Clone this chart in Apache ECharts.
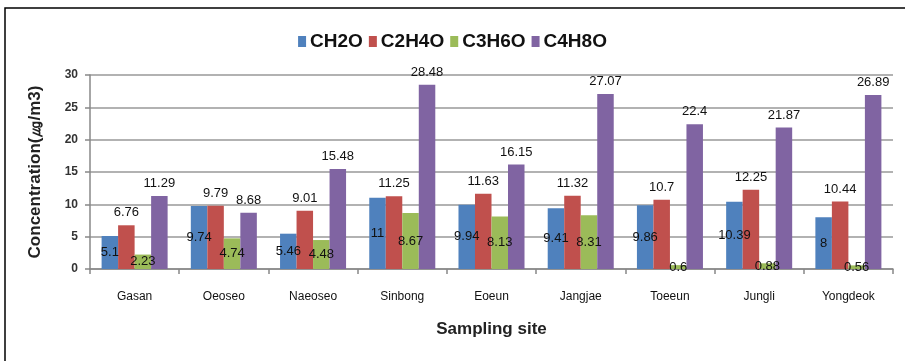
<!DOCTYPE html>
<html>
<head>
<meta charset="utf-8">
<style>
  html, body { margin: 0; padding: 0; background: #fff; }
  #chart { width: 905px; height: 361px; }
</style>
<script src="https://cdn.jsdelivr.net/npm/echarts@6/dist/echarts.min.js"></script>
</head>
<body>
<div id="chart"></div>
<script>
// Aldehyde concentrations by sampling site
const sites = ['Gasan', 'Oeoseo', 'Naeoseo', 'Sinbong', 'Eoeun', 'Jangjae', 'Toeeun', 'Jungli', 'Yongdeok'];
const seriesNames = ['CH2O', 'C2H4O', 'C3H6O', 'C4H8O'];
const ch2o  = [5.1, 9.74, 5.46, 11, 9.94, 9.41, 9.86, 10.39, 8];
const c2h4o = [6.76, 9.79, 9.01, 11.25, 11.63, 11.32, 10.7, 12.25, 10.44];
const c3h6o = [2.23, 4.74, 4.48, 8.67, 8.13, 8.31, 0.6, 0.88, 0.56];
const c4h8o = [11.29, 8.68, 15.48, 28.48, 16.15, 27.07, 22.4, 21.87, 26.89];
const yTicks = [0, 5, 10, 15, 20, 25, 30];

const values = [ch2o, c2h4o, c3h6o, c4h8o];
const colors = ['#4F81BD', '#C0504D', '#9BBB59', '#8064A2'];
const labelPos = ['inside', 'top', 'inside', 'top'];
const FONT = '"Liberation Sans", Arial, sans-serif';

const chart = echarts.init(document.getElementById('chart'));

const series = seriesNames.map((name, i) => ({
  name,
  type: 'bar',
  data: values[i],
  barGap: '0%',
  barCategoryGap: '26%',
  itemStyle: { color: colors[i] },
  label: {
    show: true,
    position: labelPos[i],
    distance: 6,
    color: '#111',
    fontFamily: FONT,
    fontSize: 13,
    formatter: p => String(p.value)
  }
}));

chart.setOption({
  animation: false,
  backgroundColor: '#fff',
  graphic: [{
    type: 'rect',
    shape: { x: 5, y: 8, width: 1200, height: 1000 },
    style: { fill: 'none', stroke: '#000', lineWidth: 1.5 },
    silent: true
  }],
  legend: {
    data: seriesNames,
    top: 27,
    left: 'center',
    itemWidth: 8,
    itemHeight: 11,
    itemGap: 6,
    icon: 'rect',
    textStyle: { fontFamily: FONT, fontSize: 19, fontWeight: 'bold', color: '#111', padding: [0, 0, 0, -1] }
  },
  grid: { left: 90, right: 12, top: 75, bottom: 92 },
  xAxis: {
    type: 'category',
    data: sites,
    name: 'Sampling site',
    nameLocation: 'middle',
    nameGap: 52,
    nameTextStyle: { fontFamily: FONT, fontSize: 17, fontWeight: 'bold', color: '#222' },
    axisLine: { lineStyle: { color: '#888', width: 1.5 } },
    axisTick: { show: true, length: 5, alignWithLabel: false, lineStyle: { color: '#888', width: 1.5 } },
    axisLabel: { fontFamily: FONT, fontSize: 12, color: '#111', margin: 22 }
  },
  yAxis: {
    type: 'value',
    min: 0,
    max: 30,
    interval: 5,
    name: 'Concentration(㎍/m3)',
    nameLocation: 'middle',
    nameGap: 46,
    nameTextStyle: { fontFamily: FONT, fontSize: 17, fontWeight: 'bold', color: '#222' },
    axisLine: { show: true, lineStyle: { color: '#888', width: 1.5 } },
    axisTick: { show: true, length: 5, lineStyle: { color: '#888', width: 1.5 } },
    axisLabel: {
      fontFamily: FONT, fontSize: 12, fontWeight: 'bold', color: '#333', margin: 12,
      formatter: v => yTicks.includes(v) ? String(v) : ''
    },
    splitLine: { lineStyle: { color: '#999', width: 1.5 } }
  },
  series
});
</script>
</body>
</html>
